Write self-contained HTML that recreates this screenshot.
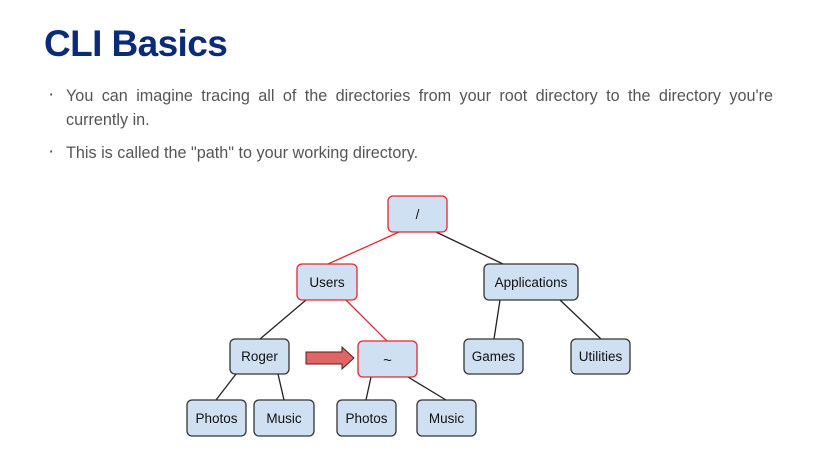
<!DOCTYPE html>
<html><head><style>
body{margin:0;width:818px;height:454px;background:#fff;position:relative;overflow:hidden;font-family:"Liberation Sans",sans-serif}
h1{position:absolute;left:44px;top:22px;margin:0;font-size:37px;letter-spacing:-0.6px;color:#0b2a78;font-weight:bold;line-height:44px}
.b{position:absolute;left:66px;width:707px;font-size:16.2px;color:#555;line-height:24px;text-align:justify}
.d{position:absolute;left:48px;font-size:19px;color:#555}
</style></head><body>
<h1>CLI Basics</h1>
<div class="d" style="top:84px">·</div>
<div class="b" style="top:84px">You can imagine tracing all of the directories from your root directory to the directory you're currently in.</div>
<div class="d" style="top:141px">·</div>
<div class="b" style="top:141px">This is called the "path" to your working directory.</div>
<svg width="818" height="454" style="position:absolute;left:0;top:0" font-family="Liberation Sans, sans-serif" font-size="13.5">
<g stroke="#222" stroke-width="1.3">
<line x1="436" y1="232" x2="503" y2="264"/>
<line x1="306" y1="300" x2="260" y2="339"/>
<line x1="236" y1="374" x2="216" y2="400"/>
<line x1="278" y1="374" x2="284" y2="400"/>
<line x1="371" y1="377" x2="366" y2="400"/>
<line x1="408" y1="377" x2="446" y2="400"/>
<line x1="500" y1="300" x2="494" y2="339"/>
<line x1="560" y1="300" x2="601" y2="339"/>
</g>
<g stroke="#e8262c" stroke-width="1.3">
<line x1="399" y1="232" x2="328" y2="264"/>
<line x1="346" y1="300" x2="387" y2="341"/>
</g>
<g fill="#cfe0f3" stroke-width="1.3">
<rect x="388" y="196" width="59" height="36" rx="5" stroke="#e8262c"/>
<rect x="297" y="264" width="60" height="36" rx="5" stroke="#e8262c"/>
<rect x="358" y="341" width="59" height="36" rx="5" stroke="#e8262c"/>
<rect x="484" y="264" width="94" height="36" rx="5" stroke="#333"/>
<rect x="230" y="339" width="59" height="35" rx="5" stroke="#333"/>
<rect x="464" y="339" width="59" height="35" rx="5" stroke="#333"/>
<rect x="571" y="339" width="59" height="35" rx="5" stroke="#333"/>
<rect x="187" y="400" width="59" height="36" rx="5" stroke="#333"/>
<rect x="254" y="400" width="60" height="36" rx="5" stroke="#333"/>
<rect x="337" y="400" width="59" height="36" rx="5" stroke="#333"/>
<rect x="417" y="400" width="59" height="36" rx="5" stroke="#333"/>
</g>
<polygon points="306,352 342,352 342,347 354,358 342,369 342,364 306,364" fill="#e06666" stroke="#5a1a1a" stroke-width="1"/>
<g fill="#111" text-anchor="middle">
<text x="417.5" y="219">/</text>
<text x="327" y="287">Users</text>
<text x="387.5" y="365" font-size="15">~</text>
<text x="531" y="287">Applications</text>
<text x="259.5" y="361">Roger</text>
<text x="493.5" y="361">Games</text>
<text x="600.5" y="361">Utilities</text>
<text x="216.5" y="423">Photos</text>
<text x="284" y="423">Music</text>
<text x="366.5" y="423">Photos</text>
<text x="446.5" y="423">Music</text>
</g>
</svg>
</body></html>
